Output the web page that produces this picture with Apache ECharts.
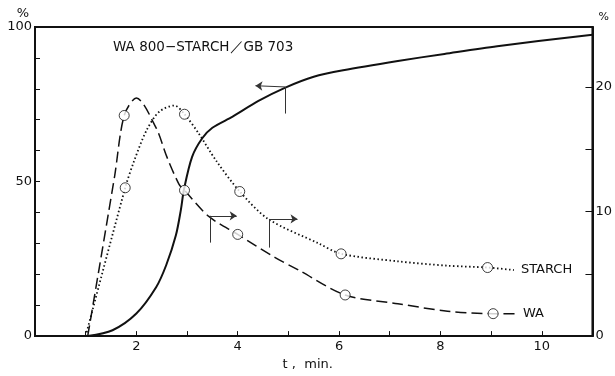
<!DOCTYPE html>
<html>
<head>
<meta charset="utf-8">
<script src="https://cdn.jsdelivr.net/npm/echarts@6/dist/echarts.min.js"></script>
<style>
  html, body { margin: 0; padding: 0; background: #fff; }
  #chart { width: 615px; height: 376px; }
</style>
</head>
<body>
<div id="chart"></div>
<script>
// cumulative curve (left axis, %)
var solidX = [1.04, 1.53, 2.0, 2.39, 2.59, 2.78, 2.88, 2.94, 3.1, 3.3, 3.5, 3.9, 4.4, 4.94, 5.5, 6.08, 7.16, 8.08, 9.12, 11];
var solidY = [0, 1.9, 7.3, 15.8, 23, 32.6, 41, 47.5, 58, 64, 67.4, 71, 76, 80.4, 83.9, 86, 89, 91.3, 93.8, 97.5];

// WA curve (right axis, %)
var waX = [1.04, 1.57, 1.76, 2.0, 2.39, 2.6, 2.84, 2.95, 3.43, 4.0, 4.74, 5.2, 6.12, 7.16, 8.14, 9.04, 9.55];
var waY = [0, 12.8, 17.7, 19.1, 16.7, 14.4, 12.2, 11.7, 9.6, 8.16, 6.3, 5.3, 3.3, 2.6, 2.0, 1.8, 1.8];
var waPtX = [1.76, 2.95, 4.0, 6.12, 9.04];
var waPtY = [17.7, 11.7, 8.16, 3.3, 1.8];

// STARCH curve (right axis, %)
var starchX = [1.0, 1.78, 1.96, 2.2, 2.45, 2.75, 2.95, 3.24, 3.57, 4.04, 4.6, 5.59, 6.04, 7.16, 8.14, 8.93, 9.45];
var starchY = [0, 11.9, 14.1, 16.5, 18.0, 18.5, 17.8, 16.2, 14.1, 11.6, 9.4, 7.45, 6.6, 6.0, 5.65, 5.5, 5.3];
var starchPtX = [1.78, 2.95, 4.04, 6.04, 8.93];
var starchPtY = [11.9, 17.8, 11.6, 6.6, 5.5];

var xLabels = [2, 4, 6, 8, 10];
var leftLabels = [0, 50, 100];
var rightLabels = [0, 10, 20];

function pairs(xs, ys) {
  return xs.map(function (x, i) { return [x, ys[i]]; });
}

var font = 'DejaVu Sans';
var ink = '#111';

var chart = echarts.init(document.getElementById('chart'), null, { renderer: 'canvas' });

var option = {
  animation: false,
  backgroundColor: '#fff',
  title: {
    text: 'WA 800\u2212STARCH\uFF0FGB 703',
    left: 108,
    top: 35,
    textStyle: { fontFamily: font, fontSize: 13.5, fontWeight: 'normal', color: ink }
  },
  grid: {
    left: 35, right: 20, top: 27, bottom: 33,
    show: true, borderColor: ink, borderWidth: 2, backgroundColor: 'transparent'
  },
  xAxis: {
    type: 'value', min: 0, max: 11, interval: 1,
    name: 't ,  min.', nameLocation: 'middle', nameGap: 21,
    nameTextStyle: { fontFamily: font, fontSize: 13, color: ink, padding: [0, 12, 0, 0] },
    axisLine: { lineStyle: { color: ink, width: 2 } },
    axisTick: { inside: true, length: 5, lineStyle: { color: ink } },
    splitLine: { show: false },
    axisLabel: {
      margin: 4, fontFamily: font, fontSize: 13, color: ink,
      formatter: function (v) { return xLabels.indexOf(v) >= 0 ? String(v) : ''; }
    }
  },
  yAxis: [{
    type: 'value', min: 0, max: 100, interval: 10,
    name: '%', nameLocation: 'end', nameGap: 4,
    nameTextStyle: { fontFamily: font, fontSize: 13, color: ink, align: 'right', padding: [0, 6, 0, 0] },
    axisLine: { lineStyle: { color: ink, width: 2 } },
    axisTick: { inside: true, length: 5, lineStyle: { color: ink } },
    splitLine: { show: false },
    axisLabel: {
      margin: 3, fontFamily: font, fontSize: 13, color: ink,
      formatter: function (v) { return leftLabels.indexOf(v) >= 0 ? String(v) : ''; }
    }
  }, {
    type: 'value', min: 0, max: 24.8, interval: 5, position: 'right',
    name: '%', nameLocation: 'end', nameGap: 4,
    nameTextStyle: { fontFamily: font, fontSize: 11, color: ink, align: 'left', padding: [0, 0, 0, 6] },
    axisLine: { show: true, lineStyle: { color: ink, width: 2 } },
    axisTick: { inside: true, length: 7, lineStyle: { color: ink } },
    splitLine: { show: false },
    axisLabel: {
      margin: 3, fontFamily: font, fontSize: 13, color: ink,
      formatter: function (v) { return rightLabels.indexOf(v) >= 0 ? String(v) : ''; }
    }
  }],
  series: [{
    name: 'total', type: 'line', yAxisIndex: 0, smooth: 0.3, showSymbol: false,
    data: pairs(solidX, solidY),
    lineStyle: { color: ink, width: 2 },
    silent: true,
    markLine: {
      silent: true, animation: false, symbol: ['none', 'arrow'], symbolSize: 7,
      label: { show: false },
      lineStyle: { color: '#333', width: 1, type: 'solid' },
      data: [
        [{ coord: [4.94, 80.6] }, { coord: [4.35, 81] }],
        [{ coord: [4.94, 80.6], symbol: 'none' }, { coord: [4.94, 72], symbol: 'none' }]
      ]
    }
  }, {
    name: 'WA', type: 'line', yAxisIndex: 1, smooth: 0.3, showSymbol: false,
    data: pairs(waX, waY),
    lineStyle: { color: ink, width: 1.5, type: [11, 5] },
    silent: true,
    endLabel: { show: true, formatter: 'WA', distance: 4, fontFamily: font, fontSize: 13, color: ink },
    markLine: {
      silent: true, animation: false, symbol: ['none', 'arrow'], symbolSize: 7,
      label: { show: false },
      lineStyle: { color: '#333', width: 1, type: 'solid' },
      data: [
        [{ coord: [3.45, 9.65] }, { coord: [3.98, 9.65] }],
        [{ coord: [3.45, 9.65], symbol: 'none' }, { coord: [3.45, 7.5], symbol: 'none' }],
        [{ coord: [4.63, 9.4] }, { coord: [5.18, 9.4] }],
        [{ coord: [4.63, 9.4], symbol: 'none' }, { coord: [4.63, 7.1], symbol: 'none' }]
      ]
    }
  }, {
    name: 'STARCH', type: 'line', yAxisIndex: 1, smooth: 0.3, showSymbol: false,
    data: pairs(starchX, starchY),
    lineStyle: { color: ink, width: 1.8, type: [1.5, 2.5] },
    silent: true,
    endLabel: { show: true, formatter: 'STARCH', distance: 7, fontFamily: font, fontSize: 13, color: ink }
  }, {
    name: 'WA points', type: 'scatter', yAxisIndex: 1, symbol: 'circle', symbolSize: 10,
    data: pairs(waPtX, waPtY),
    itemStyle: { color: '#fff', borderColor: ink, borderWidth: 1 },
    silent: true, z: 5
  }, {
    name: 'STARCH points', type: 'scatter', yAxisIndex: 1, symbol: 'circle', symbolSize: 10,
    data: pairs(starchPtX, starchPtY),
    itemStyle: { color: '#fff', borderColor: ink, borderWidth: 1 },
    silent: true, z: 5
  }]
};

chart.setOption(option);
</script>
</body>
</html>
